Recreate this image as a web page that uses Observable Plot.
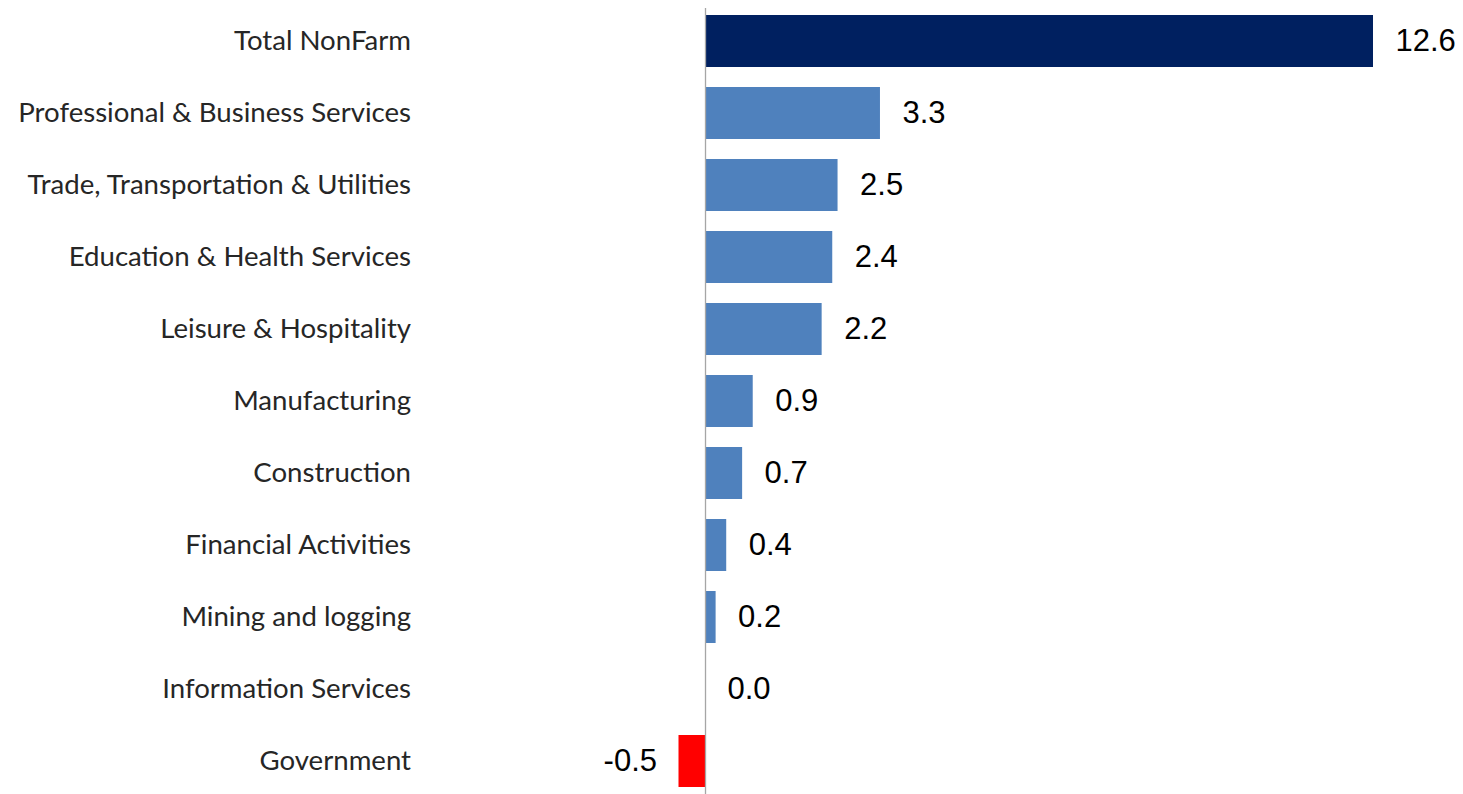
<!DOCTYPE html>
<html>
<head>
<meta charset="utf-8">
<script src="https://cdn.jsdelivr.net/npm/d3@7"></script>
<script src="https://cdn.jsdelivr.net/npm/@observablehq/plot@0.6"></script>
<style>
  html, body { margin: 0; padding: 0; background: #fff; }
</style>
</head>
<body>
<div id="chart"></div>
<script>
const categories = [
  "Total NonFarm",
  "Professional & Business Services",
  "Trade, Transportation & Utilities",
  "Education & Health Services",
  "Leisure & Hospitality",
  "Manufacturing",
  "Construction",
  "Financial Activities",
  "Mining and logging",
  "Information Services",
  "Government"
];
const values = [12.6, 3.3, 2.5, 2.4, 2.2, 0.9, 0.7, 0.4, 0.2, 0.0, -0.5];
const kinds = ["total", "sector", "sector", "sector", "sector", "sector", "sector", "sector", "sector", "sector", "sector"];

const data = categories.map((c, i) => ({
  category: c,
  value: values[i],
  kind: values[i] < 0 ? "negative" : kinds[i]
}));

const fmt = v => v.toFixed(1);

const chart = Plot.plot({
  width: 1463,
  height: 794,
  marginLeft: 678.5,
  marginRight: 90,
  marginTop: 8,
  marginBottom: 0,
  style: { background: "#ffffff", overflow: "visible" },
  x: { domain: [-0.5, 12.6], axis: null },
  y: { domain: categories, range: [4, 798], paddingInner: 0.28, paddingOuter: 0.14, label: null },
  color: {
    domain: ["total", "sector", "negative"],
    range: ["#002060", "#4f81bd", "#ff0000"]
  },
  marks: [
    Plot.barX(data, { x: "value", y: "category", fill: "kind" }),
    Plot.ruleX([0], { stroke: "#a6a6a6", strokeWidth: 1.3 }),
    Plot.axisY({
      tickSize: 0,
      tickPadding: 268,
      fontSize: 27.6,
      fontFamily: "Lato, 'Open Sans', sans-serif",
      fill: "#262626",
      label: null
    }),
    Plot.text(data.filter(d => d.value >= 0), {
      x: "value", y: "category", text: d => fmt(d.value),
      dx: 22, textAnchor: "start", fontSize: 31,
      fontFamily: "'Liberation Sans', Arial, sans-serif", fill: "#000"
    }),
    Plot.text(data.filter(d => d.value < 0), {
      x: "value", y: "category", text: d => fmt(d.value),
      dx: -22, textAnchor: "end", fontSize: 31,
      fontFamily: "'Liberation Sans', Arial, sans-serif", fill: "#000"
    })
  ]
});
document.getElementById("chart").appendChild(chart);
</script>
</body>
</html>
